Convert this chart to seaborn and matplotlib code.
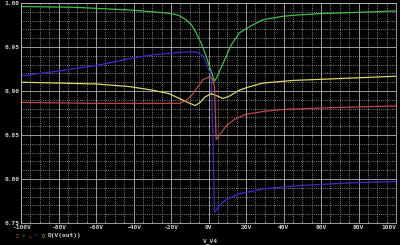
import numpy as np
import pandas as pd
import matplotlib
matplotlib.use("Agg")
import matplotlib.pyplot as plt
import seaborn as sns
from matplotlib.ticker import MultipleLocator

# ---- data (x in volts, y = D(V(out))) ----
green_x = [-100, -70, -42, -30, -21, -16, -12, -9, -6.6, -4, -1.2, 1, 3.2, 5, 7, 9.4, 12, 16.5, 22, 29, 40, 48.5, 60, 75, 100]
green_y = [0.996, 0.995, 0.992, 0.990, 0.9884, 0.986, 0.981, 0.975, 0.966, 0.955, 0.939, 0.925, 0.911, 0.918, 0.928, 0.939, 0.952, 0.966, 0.9733, 0.981, 0.985, 0.9865, 0.988, 0.989, 0.991]

blue_x = [-100, -90, -80, -70, -60, -50, -42, -30, -20, -10, -6, -3, -1, 0.5, 1.5, 2.3, 3.2, 4, 5.9, 9, 12.9, 16, 21.9, 30, 48.5, 66, 80, 100]
blue_y = [0.917, 0.920, 0.9225, 0.926, 0.929, 0.933, 0.937, 0.941, 0.943, 0.9445, 0.944, 0.940, 0.931, 0.922, 0.914, 0.85, 0.762, 0.764, 0.770, 0.776, 0.780, 0.783, 0.7855, 0.789, 0.7926, 0.7945, 0.796, 0.797]

yellow_x = [-100, -60, -42, -30, -21, -15, -10, -7, -4.5, -2, 1.4, 4, 7.6, 11, 16.5, 22, 29, 45, 66, 100]
yellow_y = [0.910, 0.908, 0.905, 0.901, 0.897, 0.891, 0.886, 0.8835, 0.887, 0.893, 0.897, 0.895, 0.8915, 0.894, 0.901, 0.905, 0.909, 0.912, 0.9138, 0.9168]

red_x = [-100, -60, -20, -15.5, -12, -9, -6.6, -3, 0.5, 2, 3.2, 4.1, 6, 9.4, 14, 20, 30, 41, 66, 100]
red_y = [0.887, 0.886, 0.886, 0.886, 0.889, 0.895, 0.902, 0.913, 0.916, 0.914, 0.905, 0.8445, 0.850, 0.8603, 0.868, 0.8735, 0.877, 0.8792, 0.8811, 0.883]

x_ticks = [-100, -80, -60, -40, -20, 0, 20, 40, 60, 80, 100]
x_tick_labels = ["-100V", "-80V", "-60V", "-40V", "-20V", "0V", "20V", "40V", "60V", "80V", "100V"]
y_ticks = [0.75, 0.80, 0.85, 0.90, 0.95, 1.00]
y_tick_labels = ["0.75", "0.80", "0.85", "0.90", "0.95", "1.00"]

series = [
    ("green", green_x, green_y, "#3fbf48"),
    ("blue", blue_x, blue_y, "#3a2cc8"),
    ("yellow", yellow_x, yellow_y, "#d8d860"),
    ("red", red_x, red_y, "#c04848"),
]

sns.set_theme(style="dark")
plt.rcParams["font.family"] = ["DejaVu Sans Mono", "DejaVu Sans"]

fig = plt.figure(figsize=(4.0, 2.45), dpi=100, facecolor="black")
ax = fig.add_axes([21 / 400, 1 - 223 / 245, 375 / 400, 220 / 245])
ax.set_facecolor("black")

for name, xs, ys, col in series:
    df = pd.DataFrame({"x": xs, "y": ys})
    sns.lineplot(data=df, x="x", y="y", ax=ax, color=col, linewidth=0.9,
                 estimator=None, sort=False)

ax.set_xlim(-100, 100)
ax.set_ylim(0.75, 1.00)
ax.set_xticks(x_ticks)
ax.set_xticklabels(x_tick_labels)
ax.set_yticks(y_ticks)
ax.set_yticklabels(y_tick_labels)
ax.xaxis.set_minor_locator(MultipleLocator(5))
ax.yaxis.set_minor_locator(MultipleLocator(0.01))

ax.grid(which="major", color="#b4b4b4", linewidth=0.6, linestyle="-")
ax.grid(which="minor", color="#a8a8a8", linewidth=0.6, linestyle=(0, (1, 1.6)))
ax.set_axisbelow(True)

ax.tick_params(axis="both", which="major", colors="#d0d0d0", labelsize=4.5,
               length=0, pad=1.2)
ax.tick_params(axis="x", which="minor", colors="#a8a8a8", length=1.5, width=0.5,
               direction="in", bottom=True)
ax.tick_params(axis="y", which="minor", length=0)
for lbl in ax.get_xticklabels() + ax.get_yticklabels():
    lbl.set_fontweight("bold")
ax.get_xticklabels()[-1].set_horizontalalignment("right")
ax.get_xticklabels()[0].set_horizontalalignment("center")
for s in ax.spines.values():
    s.set_color("#b4b4b4")
    s.set_linewidth(0.6)

ax.set_xlabel("")
ax.set_ylabel("")

# legend row (PSpice style: trace symbols then expression)
sym = ["\u25a1", "\u25c7", "\u25b3", "\u25bd", "\u25cb"]
sym_cols = ["#c04848", "#3fbf48", "#c04848", "#3a2cc8", "#d8d860"]
for i, (s, c) in enumerate(zip(sym, sym_cols)):
    fig.text((17 + i * 6.5) / 400, 1 - 235.5 / 245, s, color=c, fontsize=3.5,
             ha="center", va="center")
fig.text(48 / 400, 1 - 235.5 / 245, "D(V(out))", color="#d0d0d0", fontsize=4.5,
         fontweight="bold", ha="left", va="center")
fig.text(210 / 400, 1 - 241.5 / 245, "V_V4", color="#d0d0d0", fontsize=4.5,
         fontweight="bold", ha="center", va="center")

fig.savefig("out.png", dpi=100, facecolor="black")
